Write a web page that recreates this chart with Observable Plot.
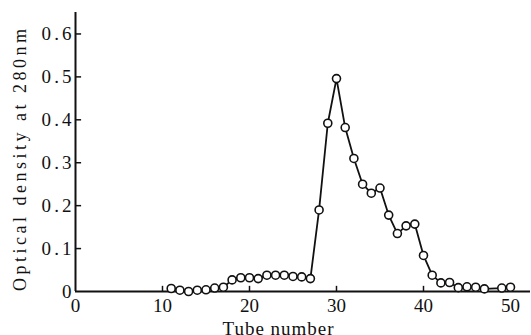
<!DOCTYPE html>
<html>
<head>
<meta charset="utf-8">
<script src="https://cdn.jsdelivr.net/npm/d3@7"></script>
<script src="https://cdn.jsdelivr.net/npm/@observablehq/plot@0.6"></script>
<style>
  html, body { margin: 0; padding: 0; background: #fff; }
</style>
</head>
<body>
<div id="chart"></div>
<script>
const tubes = [11,12,13,14,15,16,17,18,19,20,21,22,23,24,25,26,27,28,29,30,31,32,33,34,35,36,37,38,39,40,41,42,43,44,45,46,47,49,50];
const density = [0.007,0.003,0.0,0.003,0.004,0.008,0.01,0.027,0.032,0.032,0.03,0.038,0.038,0.038,0.035,0.034,0.03,0.19,0.392,0.496,0.382,0.31,0.25,0.229,0.241,0.178,0.135,0.153,0.157,0.084,0.038,0.02,0.021,0.009,0.011,0.01,0.006,0.008,0.01];
const xTicks = [0,10,20,30,40,50];
const yTicks = [0,0.1,0.2,0.3,0.4,0.5,0.6];
const xLabel = "Tube number";
const yLabel = "Optical density at 280nm";

const data = tubes.map((t, i) => ({tube: t, od: density[i]}));
const font = "'Liberation Serif', 'DejaVu Serif', serif";

const chart = Plot.plot({
  width: 531,
  height: 335,
  marginLeft: 75,
  marginRight: 1,
  marginTop: 12,
  marginBottom: 44,
  style: {fontFamily: font, fontSize: "19px", color: "#111", background: "#fff"},
  x: {domain: [0, 52.3], ticks: xTicks},
  y: {domain: [0, 0.65], ticks: yTicks},
  marks: [
    Plot.axisX({ticks: xTicks, tickSize: 0, tickPadding: 7, tickFormat: d => String(d), label: null, fontSize: 19}),
    Plot.axisY({ticks: yTicks, tickSize: 0, tickPadding: 4, tickFormat: d => d === 0 ? "0" : d.toFixed(1), label: null, fontSize: 19}),
    Plot.ruleX(xTicks.filter(d => d > 0), {y1: 0, y2: 0.012, stroke: "#111", strokeWidth: 1.5}),
    Plot.ruleY(yTicks.filter(d => d > 0), {x1: 0, x2: 0.7, stroke: "#111", strokeWidth: 1.5}),
    Plot.ruleX([0], {stroke: "#111", strokeWidth: 2}),
    Plot.ruleY([0], {stroke: "#111", strokeWidth: 2}),
    Plot.line(data, {x: "tube", y: "od", stroke: "#111", strokeWidth: 1.8}),
    Plot.dot(data, {x: "tube", y: "od", r: 4, fill: "#fff", stroke: "#111", strokeWidth: 1.6}),
    Plot.text([xLabel], {frameAnchor: "bottom", textAnchor: "middle", dx: -25, dy: 37, fontSize: 19, fill: "#111", lineAnchor: "middle"}),
    Plot.text([yLabel], {frameAnchor: "left", textAnchor: "middle", rotate: -90, dx: -55, dy: 8, fontSize: 18, fill: "#111", lineAnchor: "middle"})
  ]
});
document.getElementById("chart").append(chart);

// widen the label lettering to match the original typesetting
const svg = d3.select(chart);
svg.selectAll("text").each(function() {
  const t = d3.select(this);
  const s = this.textContent;
  if (s === yLabel) t.attr("textLength", 262).attr("lengthAdjust", "spacing");
  else if (s === xLabel) t.attr("textLength", 111).attr("lengthAdjust", "spacing");
  else if (/^0\.\d$/.test(s)) t.attr("textLength", 30).attr("lengthAdjust", "spacing");
});
</script>
</body>
</html>
